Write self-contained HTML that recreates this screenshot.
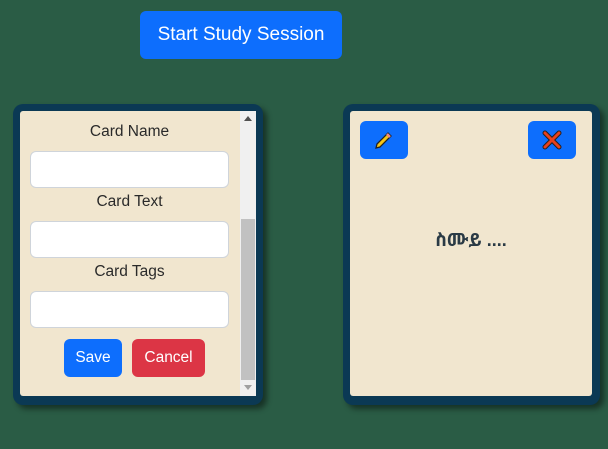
<!DOCTYPE html>
<html><head><style>
*{box-sizing:border-box;margin:0;padding:0}
body{width:608px;height:449px;background:#2a5c45;font-family:"Liberation Sans","DejaVu Sans",sans-serif;position:relative;overflow:hidden;color:#222}
.abs{position:absolute}
.btn{position:absolute;border-radius:6px;color:#fff;display:flex;align-items:center;justify-content:center}
.card{position:absolute;background:#0b3954;border-radius:10px;box-shadow:4px 4px 6px rgba(0,0,0,.45)}
.inner{position:absolute;background:#f1e6cf;border-radius:3px}
.lbl{position:absolute;left:30px;width:199px;text-align:center;font-size:15.5px;color:#2a2a2a}
.inp{position:absolute;left:30px;width:199px;height:37px;background:#fff;border:1px solid #cfd4da;border-radius:6px}
</style></head><body>
<div class="btn" style="left:140px;top:11px;width:202px;height:48px;background:#0d6efd;font-size:19px">Start Study Session</div>

<div class="card" style="left:13px;top:104px;width:250px;height:301px"></div>
<div class="inner" style="left:20px;top:111px;width:236px;height:285px"></div>
<div class="abs" style="left:240px;top:111px;width:16px;height:285px;background:#f0f0f0"></div>
<div class="abs" style="left:241px;top:219px;width:14px;height:161px;background:#c1c1c1"></div>
<div class="abs" style="left:244px;top:116px;width:0;height:0;border-left:4px solid transparent;border-right:4px solid transparent;border-bottom:5px solid #505050"></div>
<div class="abs" style="left:244px;top:385px;width:0;height:0;border-left:4px solid transparent;border-right:4px solid transparent;border-top:5px solid #a0a0a0"></div>
<div class="lbl" style="top:123px">Card Name</div>
<div class="inp" style="top:151px"></div>
<div class="lbl" style="top:193px">Card Text</div>
<div class="inp" style="top:221px"></div>
<div class="lbl" style="top:263px">Card Tags</div>
<div class="inp" style="top:291px"></div>
<div class="btn" style="left:64px;top:339px;width:58px;height:38px;background:#0d6efd;font-size:15.5px">Save</div>
<div class="btn" style="left:132px;top:339px;width:73px;height:38px;background:#dc3545;font-size:15.5px">Cancel</div>

<div class="card" style="left:343px;top:104px;width:257px;height:301px"></div>
<div class="inner" style="left:350px;top:111px;width:242px;height:285px"></div>
<div class="btn" style="left:360px;top:121px;width:48px;height:38px;background:#0d6efd">
<svg width="20" height="20" viewBox="0 0 20 20"><path d="M2 18 L3 14 L14 3 L17 6 L6 17 Z" fill="#f5c518" stroke="#222" stroke-width="1.3"/><path d="M13 4 L16 7" stroke="#e88" stroke-width="2.5"/></svg></div>
<div class="btn" style="left:528px;top:121px;width:48px;height:38px;background:#0d6efd">
<svg width="20" height="20" viewBox="0 0 20 20"><path d="M3 3 L17 17 M17 3 L3 17" stroke="#222" stroke-width="5" stroke-linecap="round"/><path d="M3 3 L17 17 M17 3 L3 17" stroke="#e8401c" stroke-width="3" stroke-linecap="round"/></svg></div>
<div class="abs" style="left:350px;top:228px;width:242px;text-align:center;font-weight:bold;font-size:18px;color:#2a3a45;font-family:'Liberation Sans','Noto Sans Ethiopic','Abyssinica SIL','DejaVu Sans',sans-serif">ስሙይ ....</div>
</body></html>
